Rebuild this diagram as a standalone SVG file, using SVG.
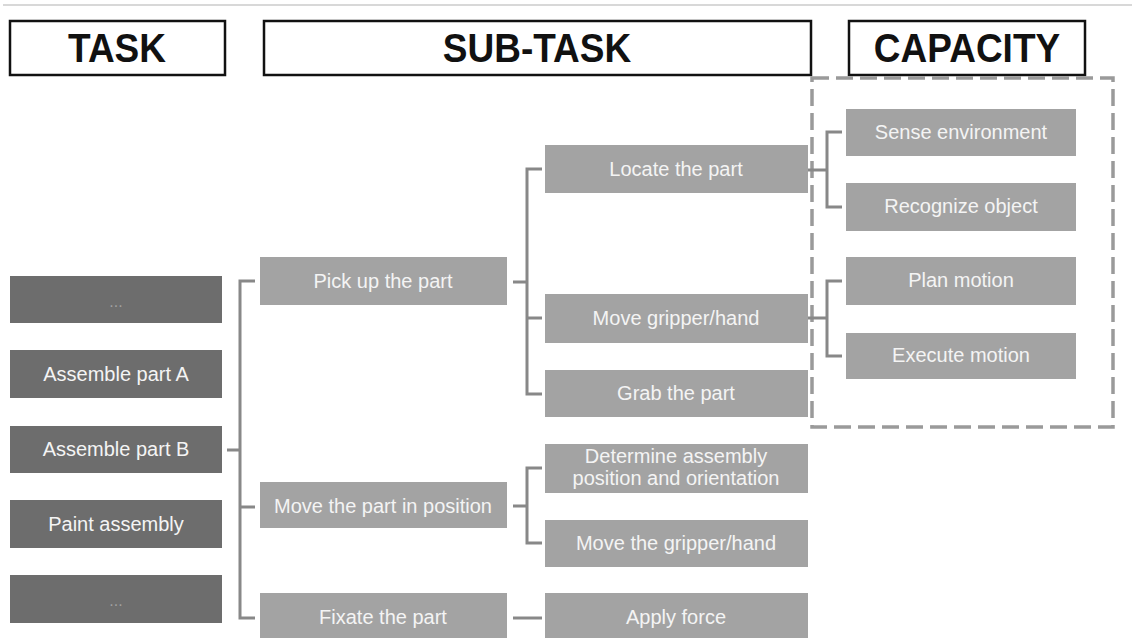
<svg xmlns="http://www.w3.org/2000/svg" width="1132" height="638" viewBox="0 0 1132 638">
<style>
.hdr{fill:#fff;stroke:#111;stroke-width:2.5}
.ht{font-family:"Liberation Sans",Arial,sans-serif;font-weight:bold;font-size:37px;fill:#111;text-anchor:middle}
.tk{fill:#6d6d6d}
.st{fill:#a3a3a3}
.lb{font-family:"Liberation Sans",Arial,sans-serif;font-size:20px;fill:#f4f4f4;text-anchor:middle}
.dots{font-family:"Liberation Sans",Arial,sans-serif;font-size:16px;fill:#a0a0a0;text-anchor:middle}
.cn{fill:none;stroke:#888;stroke-width:3}
</style>
<rect width="1132" height="638" fill="#fff"/>
<line x1="3" y1="5" x2="1132" y2="5" stroke="#d8d8d8" stroke-width="2"/>
<g id="hdr-task"><rect class="hdr" x="10" y="21" width="215" height="54"/><text class="ht" transform="translate(117 62) scale(1 1.12)">TASK</text></g>
<g id="hdr-subtask"><rect class="hdr" x="264" y="21" width="547" height="54"/><text class="ht" transform="translate(537 62) scale(1 1.12)">SUB-TASK</text></g>
<g id="hdr-capacity"><rect class="hdr" x="849" y="21" width="236" height="54"/><text class="ht" transform="translate(967 62) scale(1 1.12)">CAPACITY</text></g>
<g id="capacity-group"><rect x="812" y="78" width="301" height="349" fill="none" stroke="#9a9a9a" stroke-width="3.5" stroke-dasharray="17 7"/></g>
<g id="connectors">
<path class="cn" d="M227 450H240M255 281H240V618H255M240 507H255"/>
<path class="cn" d="M513 282H527M542 169H527V394H542M527 318H542"/>
<path class="cn" d="M513 506H527M542 468H527V543H542"/>
<path class="cn" d="M513 618H542"/>
<path class="cn" d="M808 170H827M842 132H827V207H842"/>
<path class="cn" d="M808 318H827M842 281H827V356H842"/>
</g>
<g id="t1"><rect class="tk" x="10" y="276" width="212" height="47"/><text class="dots" x="116" y="307">...</text></g>
<g id="t2"><rect class="tk" x="10" y="350" width="212" height="48"/><text class="lb" x="116" y="381">Assemble part A</text></g>
<g id="t3"><rect class="tk" x="10" y="426" width="212" height="47"/><text class="lb" x="116" y="456">Assemble part B</text></g>
<g id="t4"><rect class="tk" x="10" y="500" width="212" height="48"/><text class="lb" x="116" y="531">Paint assembly</text></g>
<g id="t5"><rect class="tk" x="10" y="575" width="212" height="48"/><text class="dots" x="116" y="606">...</text></g>
<g id="s1"><rect class="st" x="260" y="257" width="247" height="48"/><text class="lb" x="383" y="288">Pick up the part</text></g>
<g id="s2"><rect class="st" x="260" y="482" width="247" height="46"/><text class="lb" x="383" y="513">Move the part in position</text></g>
<g id="s3"><rect class="st" x="260" y="593" width="247" height="47"/><text class="lb" x="383" y="624">Fixate the part</text></g>
<g id="ss1"><rect class="st" x="545" y="145" width="263" height="48"/><text class="lb" x="676" y="176">Locate the part</text></g>
<g id="ss2"><rect class="st" x="545" y="294" width="263" height="49"/><text class="lb" x="676" y="325">Move gripper/hand</text></g>
<g id="ss3"><rect class="st" x="545" y="370" width="263" height="47"/><text class="lb" x="676" y="400">Grab the part</text></g>
<g id="ss4"><rect class="st" x="545" y="444" width="263" height="49"/><text class="lb" x="676" y="463">Determine assembly</text><text class="lb" x="676" y="485">position and orientation</text></g>
<g id="ss5"><rect class="st" x="545" y="520" width="263" height="47"/><text class="lb" x="676" y="550">Move the gripper/hand</text></g>
<g id="ss6"><rect class="st" x="545" y="593" width="263" height="47"/><text class="lb" x="676" y="624">Apply force</text></g>
<g id="c1"><rect class="st" x="846" y="109" width="230" height="47"/><text class="lb" x="961" y="139">Sense environment</text></g>
<g id="c2"><rect class="st" x="846" y="183" width="230" height="48"/><text class="lb" x="961" y="213">Recognize object</text></g>
<g id="c3"><rect class="st" x="846" y="257" width="230" height="48"/><text class="lb" x="961" y="287">Plan motion</text></g>
<g id="c4"><rect class="st" x="846" y="333" width="230" height="46"/><text class="lb" x="961" y="362">Execute motion</text></g>
</svg>
